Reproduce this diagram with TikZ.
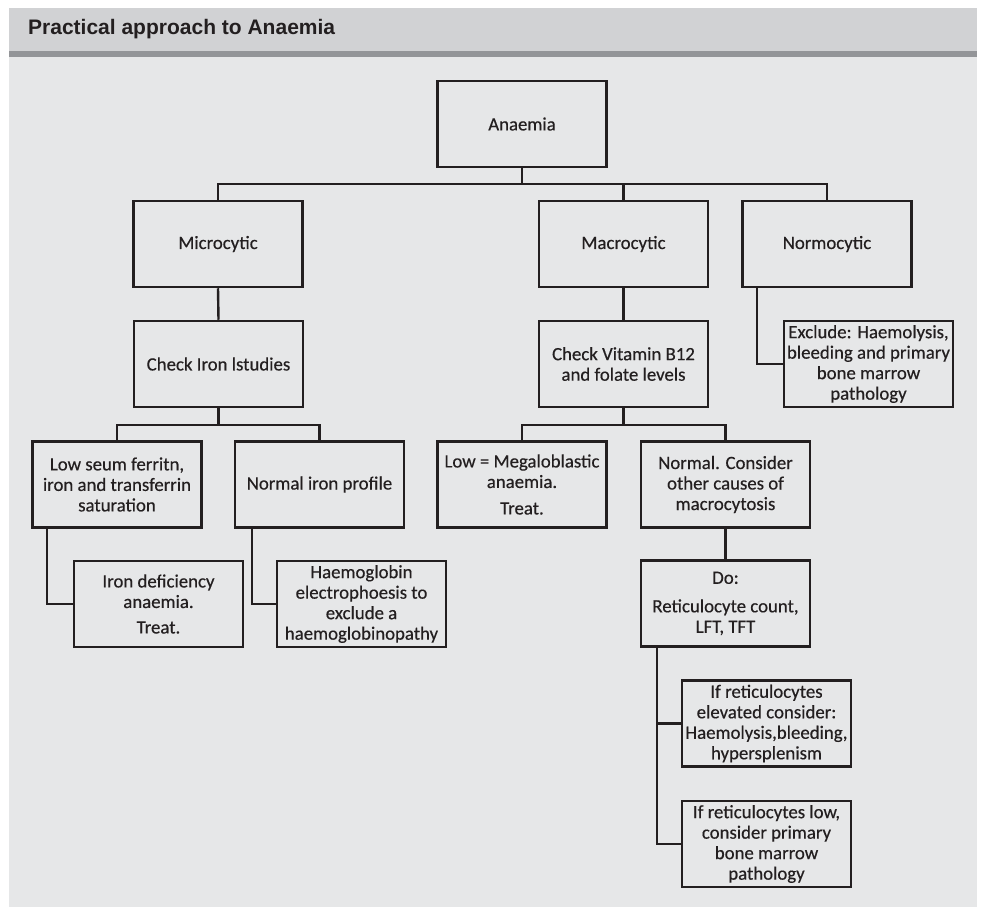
\documentclass[tikz,border=0pt]{standalone}
\usepackage{fontspec}
\setmainfont{Carlito}[FakeBold=0.4]
\newfontfamily\headfont{Liberation Sans}
\usetikzlibrary{positioning}

\definecolor{panelgray}{HTML}{E6E7E8}
\definecolor{headgray}{HTML}{D1D2D4}
\definecolor{rulegray}{HTML}{939598}
\definecolor{inkgray}{HTML}{231F20}

\begin{document}
\begin{tikzpicture}[x=1pt,y=-1pt,
    box/.style={draw=inkgray,line width=2.5pt,minimum width=169pt,minimum height=86pt,
        inner sep=0pt,align=center,text=inkgray,font=\fontsize{18.8}{20.5}\selectfont},
    link/.style={draw=inkgray,line width=2.4pt}]
        \useasboundingbox (0,0) rectangle (982,907);

        % Panel and header band
        \fill[white] (0,0) rectangle (982,907);
        \fill[headgray] (9,8) rectangle (977,51);
        \fill[rulegray] (9,51) rectangle (977,57);
        \fill[panelgray] (9,57) rectangle (977,907);
        \node[anchor=base west,inner sep=0pt,text=inkgray,font=\headfont\bfseries\fontsize{21}{24}\selectfont] (title) at (28,35) {Practical approach to Anaemia};

        % Top level
        \node[box] (anaemia) at (522,124) {Anaemia};
        \node[box] (micro) at (218,244) {Microcytic};
        \node[box] (macro) at (623.5,244) {Macrocytic};
        \node[box] (normo) at (827,244) {Normocytic};

        % Second level
        \node[box] (iron) at (218.5,364) {Check Iron lstudies};
        \node[box] (vitb) at (623.5,364) {Check Vitamin B12\\and folate levels};
        \node[box] (excl) at (868.5,364) {Exclude: Haemolysis,\\bleeding and primary\\bone marrow\\pathology};

        % Third level
        \node[box] (lowfer) at (117,484.5) {Low seum ferritn,\\iron and transferrin\\saturation};
        \node[box] (normiron) at (319.5,484.5) {Normal iron profile};
        \node[box] (lowmeg) at (522,484.5) {Low = Megaloblastic\\anaemia.\\[6pt]Treat.};
        \node[box] (normcons) at (725.5,484.5) {Normal. Consider\\other causes of\\macrocytosis};

        % Fourth level
        \node[box] (irondef) at (158.5,604) {Iron deficiency\\anaemia.\\[5pt]Treat.};
        \node[box] (haemo) at (361.5,604) {Haemoglobin\\electrophoesis to\\exclude a\\haemoglobinopathy};
        \node[box] (doretic) at (725.5,603.5) {Do:\\[8pt]Reticulocyte count,\\LFT, TFT};

        % Reticulocyte outcomes
        \node[box] (retelev) at (766.5,723.5) {If reticulocytes\\elevated consider:\\Haemolysis,bleeding,\\hypersplenism};
        \node[box] (retlow) at (766.5,844) {If reticulocytes low,\\consider primary\\bone marrow\\pathology};

        % Tree connectors
        \foreach \kid in {micro,macro,normo} {
            \draw[link] (anaemia.south) -- ++(0,16) -| (\kid.north);
        }
        \draw[link] (micro.south) -- (iron.north);
        \draw[link] (macro.south) -- (vitb.north);
        \foreach \kid in {lowfer,normiron} {
            \draw[link] (iron.south) -- ++(0,17) -| (\kid.north);
        }
        \foreach \kid in {lowmeg,normcons} {
            \draw[link] (vitb.south) -- ++(0,17) -| (\kid.north);
        }
        \draw[link] (normcons.south) -- (doretic.north);

        % Side branches
        \draw[link] ([xshift=16pt]normo.south west) |- (excl.west);
        \draw[link] ([xshift=16pt]lowfer.south west) |- (irondef.west);
        \draw[link] ([xshift=18pt]normiron.south west) |- (haemo.west);
        \draw[link] ([xshift=17pt]doretic.south west) |- (retelev.west);
        \draw[link] ([xshift=17pt]doretic.south west) |- (retlow.west);
\end{tikzpicture}
\end{document}
